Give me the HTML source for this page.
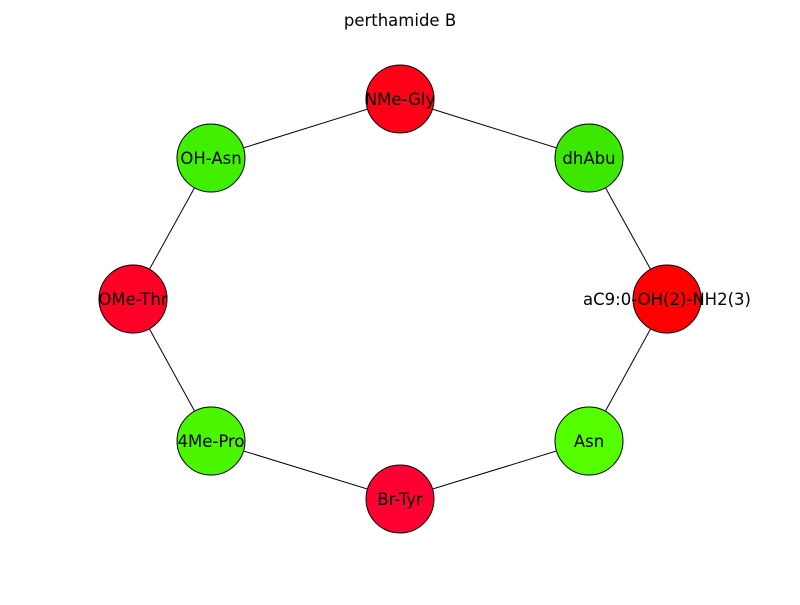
<!DOCTYPE html>
<html><head><meta charset="utf-8"><style>body{margin:0;background:#fff}</style></head>
<body>
<svg width="800" height="600" xmlns="http://www.w3.org/2000/svg" font-family="DejaVu Sans, Liberation Sans, sans-serif">
<rect width="800" height="600" fill="#fff"/>
<text x="400" y="26" text-anchor="middle" font-size="16.5">perthamide B</text>
<g stroke="#000" stroke-width="1">
<polygon points="400,99 589,158 667,299 589,441 400,499 211,441 133,299 211,158" fill="none"/>
</g>
<g stroke="#000" stroke-width="1">
<circle cx="400" cy="99" r="34" fill="#ff0016"/>
<circle cx="589" cy="158" r="34" fill="#3ce800"/>
<circle cx="667" cy="299" r="34" fill="#ff0000"/>
<circle cx="589" cy="441" r="34" fill="#55ff00"/>
<circle cx="400" cy="499" r="34" fill="#ff0033"/>
<circle cx="211" cy="441" r="34" fill="#4cf500"/>
<circle cx="133" cy="299" r="34" fill="#ff0026"/>
<circle cx="211" cy="158" r="34" fill="#40f000"/>
</g>
<g font-size="16.5" text-anchor="middle" fill="#000">
<text x="400" y="105">NMe-Gly</text>
<text x="589" y="164">dhAbu</text>
<text x="667" y="305">aC9:0-OH(2)-NH2(3)</text>
<text x="589" y="447">Asn</text>
<text x="400" y="505">Br-Tyr</text>
<text x="211" y="447">4Me-Pro</text>
<text x="133" y="305">OMe-Thr</text>
<text x="211" y="164">OH-Asn</text>
</g>
</svg>
</body></html>
